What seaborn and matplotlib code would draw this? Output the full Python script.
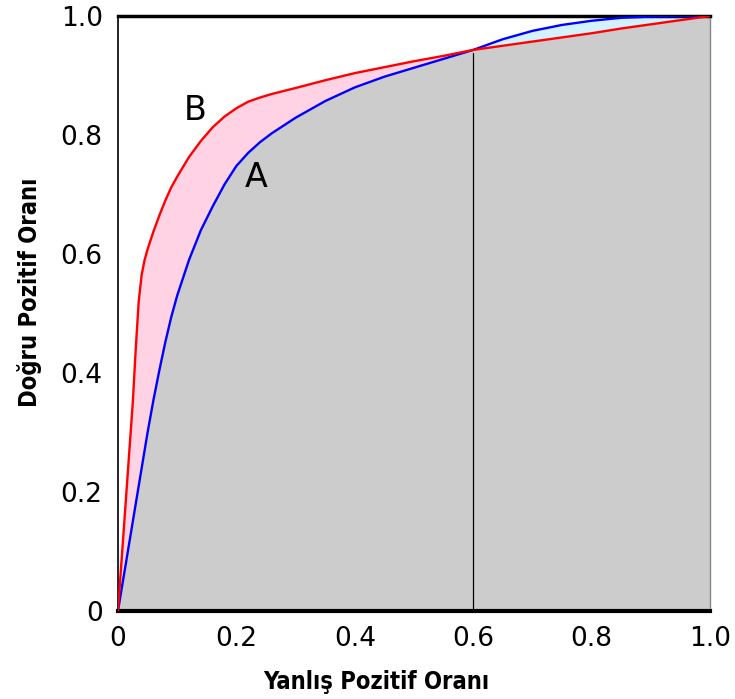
import numpy as np
import pandas as pd
import matplotlib
matplotlib.use("Agg")
import matplotlib.pyplot as plt
import seaborn as sns

# Shared false-positive-rate grid and true-positive-rates of the two ROC curves
fpr = [0, 0.005, 0.01, 0.015, 0.02, 0.025, 0.03, 0.035, 0.04, 0.045, 0.05, 0.06, 0.07,
       0.08, 0.09, 0.1, 0.12, 0.14, 0.16, 0.18, 0.2, 0.22, 0.24, 0.26, 0.28, 0.3,
       0.35, 0.4, 0.45, 0.5, 0.55, 0.6, 0.65, 0.7, 0.75, 0.8, 0.85, 0.9, 0.95, 1.0]
tpr_b = [0, 0.07, 0.14, 0.21, 0.28, 0.35, 0.44, 0.52, 0.565, 0.59, 0.608, 0.638, 0.665,
         0.69, 0.712, 0.73, 0.763, 0.79, 0.813, 0.831, 0.845, 0.856, 0.863, 0.869, 0.874, 0.879,
         0.892, 0.904, 0.914, 0.924, 0.933, 0.943, 0.950, 0.957, 0.964, 0.971, 0.979, 0.986, 0.993, 1.0]
tpr_a = [0, 0.03, 0.06, 0.09, 0.12, 0.15, 0.18, 0.21, 0.24, 0.27, 0.30, 0.355, 0.405,
         0.452, 0.494, 0.53, 0.59, 0.64, 0.68, 0.717, 0.748, 0.77, 0.788, 0.803, 0.816, 0.829,
         0.857, 0.880, 0.898, 0.913, 0.928, 0.943, 0.961, 0.975, 0.985, 0.992, 0.997, 0.999, 1.0, 1.0]
ticks = [0, 0.2, 0.4, 0.6, 0.8, 1.0]
tick_labels = ["0", "0.2", "0.4", "0.6", "0.8", "1.0"]
threshold_x = 0.6
curve_labels = {"A": (0.233, 0.728), "B": (0.13, 0.842)}

df = pd.DataFrame({"fpr": fpr * 2,
                   "tpr": tpr_a + tpr_b,
                   "model": ["A"] * len(fpr) + ["B"] * len(fpr)})

sns.set_style("white")
fig = plt.figure(figsize=(7.35, 6.99), dpi=100)
ax = fig.add_axes([0.1605, 0.1259, 0.8055, 0.8512])

x = np.array(fpr)
a = np.array(tpr_a)
b = np.array(tpr_b)
lo = np.minimum(a, b)
ax.fill_between(x, 0, lo, color="#cccccc", lw=0, zorder=1)
ax.fill_between(x, a, b, where=b >= a, color="#ffd3e3", lw=0, interpolate=True, zorder=1)
ax.fill_between(x, a, b, where=a >= b, color="#d3f2ff", lw=0, interpolate=True, zorder=1)

ax.plot([threshold_x, threshold_x], [0, np.interp(threshold_x, x, lo) - 0.005],
        color="black", lw=0.9, zorder=2)

sns.lineplot(data=df, x="fpr", y="tpr", hue="model", palette={"A": "#0000ff", "B": "#ff0000"},
             lw=1.7, ax=ax, legend=False, zorder=3, sort=False, estimator=None)

for name, (tx, ty) in curve_labels.items():
    ax.text(tx, ty, name, fontsize=24, ha="center", va="center", color="black", zorder=4)

ax.set_xlim(0, 1)
ax.set_ylim(0, 1)
ax.set_xticks(ticks)
ax.set_xticklabels(tick_labels, fontsize=19, color="black")
ax.set_yticks(ticks)
ax.set_yticklabels(tick_labels, fontsize=19, color="black")
ax.tick_params(axis="both", direction="out", length=8, width=1.2, color="#777777", pad=3)

ax.spines["left"].set_color("black")
ax.spines["left"].set_linewidth(1.2)
ax.spines["top"].set_color("black")
ax.spines["top"].set_linewidth(2.5)
ax.spines["bottom"].set_color("black")
ax.spines["bottom"].set_linewidth(3)
ax.spines["right"].set_color("#888888")
ax.spines["right"].set_linewidth(1)

ax.set_xlabel("Yanlış Pozitif Oranı", fontsize=17, fontweight="bold",
              fontstretch="condensed", color="black")
ax.set_ylabel("Doğru Pozitif Oranı", fontsize=17, fontweight="bold",
              fontstretch="condensed", color="black")
ax.xaxis.set_label_coords((376 - 118) / 592, -(682 - 611) / 595)
ax.yaxis.set_label_coords(-(118 - 30) / 592, (611 - 292) / 595)
ax.xaxis.label.set_va("center")
ax.yaxis.label.set_va("center")

fig.savefig("out.png", dpi=100)
